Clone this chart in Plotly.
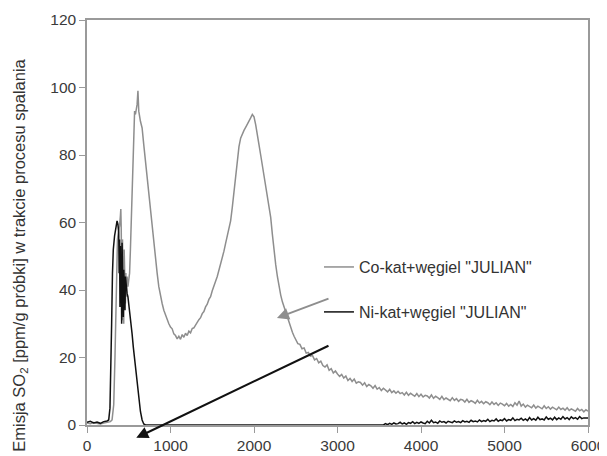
import plotly.graph_objects as go

# ---------------- data ----------------
# Co-kat series: main part (irregular sampling) + tail sampled every 25 s
co_time_main = [0, 40, 80, 120, 160, 200, 240, 280, 300, 320, 335, 345, 355, 365, 375, 390, 400, 405,
                410, 415, 420, 425, 430, 435, 440, 445, 450, 455, 460, 465, 470, 480, 490, 500, 510,
                520, 530, 540, 550, 560, 570, 580, 590, 600, 610, 615, 620, 640, 660, 680, 700, 720,
                740, 760, 780, 800, 820, 840, 860, 880, 900, 920, 940, 960, 980, 1000, 1020, 1040,
                1060, 1080, 1100, 1120, 1140, 1160, 1180, 1200, 1220, 1240, 1260, 1280, 1300, 1320,
                1340, 1360, 1380, 1400, 1420, 1440, 1460, 1480, 1500, 1520, 1540, 1560, 1580, 1600,
                1620, 1640, 1660, 1680, 1700, 1720, 1740, 1760, 1780, 1800, 1820, 1840, 1860, 1880,
                1900, 1920, 1940, 1960, 1980, 2000, 2020, 2040, 2060, 2080, 2100, 2120, 2140, 2160,
                2180, 2200, 2220, 2240, 2260, 2280, 2300, 2320, 2340, 2360, 2380, 2400, 2420, 2440,
                2460, 2480]
co_emission_main = [0.6, 0.4, 0.7, 0.5, 0.3, 0.6, 0.8, 1.0, 1.5, 6, 20, 35, 50, 55, 57, 59, 62, 64,
                    58, 42, 31, 55, 35, 50, 30, 52, 40, 48, 36, 45, 38, 44, 41, 43, 45,
                    52, 60, 70, 80, 88, 93, 92, 94, 95, 99, 97, 93, 90, 88, 83, 78, 74,
                    70, 64, 58, 53, 49, 45, 41, 38, 36, 34, 32.5, 31, 30, 29, 28.5, 27,
                    26.5, 25.5, 26.3, 25.4, 26.8, 26.0, 27.2, 26.5, 27.8, 27.3, 28.6, 28.8, 29.8, 30.4,
                    31.2, 31.8, 33.0, 33.6, 35.0, 35.8, 37.2, 38.0, 39.8, 41.0, 42.6, 44.0, 45.8, 47.2,
                    49.5, 51.5, 53.8, 55.8, 58.0, 60.5, 64.5, 69.0, 73.5, 78.5, 82.5, 85.0, 86.5, 87.3,
                    88.2, 89.3, 90.0, 91.0, 92.0, 91.3, 89.0, 86.5, 83.0, 80.0, 77.0, 74.0, 70.0, 67.0,
                    64.5, 61.5, 56.5, 51.5, 47.5, 44.0, 41.0, 38.5, 36.5, 35.0, 33.0, 31.5, 30.0, 28.8,
                    27.5, 26.3]
co_time_tail = list(range(2500, 6001, 25))
co_emission_tail = [25.4, 24.1, 23.9, 22.6, 22.8, 21.3, 21.5, 20.4, 20.6, 19.3, 19.7, 18.4, 18.9,
                    17.6, 17.2, 17.8, 16.2, 16.7, 15.4, 16.0, 15.1, 14.4, 15.0, 13.9, 14.5, 13.2,
                    13.8, 12.9, 13.6, 12.4, 12.8, 12.6, 11.8, 12.5, 11.4, 12.0, 11.6, 10.9, 11.7,
                    10.6, 11.1, 10.2, 10.9, 10.4, 9.8, 10.6, 9.6, 10.1, 9.4, 10.0, 9.3, 9.6, 8.9,
                    9.7, 8.8, 9.4, 9.0, 8.5, 9.3, 8.4, 9.1, 8.3, 8.8, 8.6, 8.0, 8.9, 7.9, 8.5, 8.1,
                    7.6, 8.5, 7.5, 8.0, 7.7, 7.2, 8.1, 7.3, 7.8, 7.0, 7.6, 7.4, 6.8, 7.6, 6.7, 7.2,
                    6.9, 6.4, 7.3, 6.5, 7.0, 6.3, 6.9, 6.6, 6.0, 6.8, 6.1, 6.6, 5.8, 6.5, 6.2, 5.7,
                    6.4, 5.6, 6.1, 5.5, 6.6, 5.9, 7.1, 5.6, 6.2, 5.3, 5.9, 5.5, 5.1, 5.9, 5.0, 5.6,
                    5.2, 4.8, 5.7, 4.9, 5.4, 4.7, 5.3, 4.9, 4.5, 5.3, 4.6, 5.0, 4.4, 5.1, 4.3, 4.8,
                    4.5, 4.1, 4.9, 4.2, 4.6, 3.9, 4.5, 4.1]

# Ni-kat series: main part + tail sampled every 25 s
ni_time_main = [0, 40, 80, 120, 160, 200, 240, 260, 275, 285, 295, 305, 315, 330, 345, 360, 370,
                380, 385, 390, 395, 400, 405, 410, 415, 420, 425, 430, 435, 440, 445, 450, 455, 460,
                470, 480, 490, 500, 520, 540, 555, 580, 600, 615, 640, 660, 680, 700]
ni_emission_main = [0.8, 1.1, 0.6, 0.9, 0.5, 1.0, 1.2, 1.5, 5, 14, 30, 45, 52, 56, 58.5, 60.5, 59.5,
                    57, 45, 55, 35, 53, 40, 50, 30, 54, 38, 48, 32, 46, 36, 43, 34, 44,
                    40, 39, 38, 36, 32, 27, 23, 17, 12.5, 8.5, 4, 1.5, 0.3, 0]
ni_time_tail = list(range(3500, 6001, 25))
ni_emission_tail = [0.0, 0.2, 0.0, 0.4, 0.1, 0.5, 0.2, 0.6, 0.3, 0.4, 0.8, 0.3, 0.6, 0.2, 0.7,
                    0.5, 1.0, 0.4, 0.8, 0.5, 0.9, 0.6, 0.4, 1.1, 0.6, 1.4, 0.7, 0.9, 0.5, 1.2,
                    0.8, 1.0, 0.6, 1.1, 0.9, 0.7, 1.2, 0.8, 1.0, 0.7, 1.3, 0.9, 1.1, 0.8, 1.4,
                    1.0, 1.2, 0.9, 1.5, 1.0, 1.3, 1.1, 1.7, 1.0, 1.4, 1.2, 1.8, 1.1, 1.5, 1.3,
                    1.9, 1.2, 1.6, 1.4, 2.1, 1.3, 1.7, 1.5, 2.0, 1.4, 1.8, 1.3, 2.2, 1.5, 1.9,
                    1.4, 2.3, 1.6, 1.8, 1.5, 2.4, 1.7, 2.0, 1.5, 2.3, 1.6, 2.1, 1.7, 2.5, 1.8,
                    2.2, 1.6, 2.4, 1.9, 2.2, 1.7, 2.5, 1.9, 2.1, 2.0, 2.1]

co_time = co_time_main + co_time_tail
co_emission = co_emission_main + co_emission_tail
ni_time = ni_time_main + ni_time_tail
ni_emission = ni_emission_main + ni_emission_tail

series_names = ['Co-kat+węgiel "JULIAN"', 'Ni-kat+węgiel "JULIAN"']
x_ticks = [0, 1000, 2000, 3000, 4000, 5000, 6000]
y_ticks = [0, 20, 40, 60, 80, 100, 120]
y_title = "Emisja SO<sub>2</sub> [ppm/g próbki] w trakcie procesu spalania"

# arrows (tail -> head), in data units
gray_arrow = dict(tail=(2910, 37.6), head=(2275, 31.7))
black_arrow = dict(tail=(2910, 23.7), head=(590, -3.8))

GRAY = "#8e8e8e"
BLACK = "#111111"
AXIS = "#9a9a9a"
FONT = "Liberation Sans, Arial, sans-serif"

fig = go.Figure()
fig.add_trace(go.Scatter(x=co_time, y=co_emission, mode="lines", name=series_names[0],
                         line=dict(color=GRAY, width=1.5), legend="legend"))
fig.add_trace(go.Scatter(x=ni_time, y=ni_emission, mode="lines", name=series_names[1],
                         line=dict(color=BLACK, width=1.5), legend="legend2"))

for arr, col in ((gray_arrow, GRAY), (black_arrow, BLACK)):
    fig.add_annotation(x=arr["head"][0], y=arr["head"][1], ax=arr["tail"][0], ay=arr["tail"][1],
                       xref="x", yref="y", axref="x", ayref="y", text="", showarrow=True,
                       arrowhead=2, arrowsize=1.2, arrowwidth=2, arrowcolor=col)

fig.add_annotation(text=y_title, xref="paper", yref="paper", x=-0.134, y=0.42,
                   xanchor="center", yanchor="middle", textangle=-90, showarrow=False,
                   font=dict(family=FONT, size=16.5, color="#333333"))

axis_common = dict(showline=True, linecolor=AXIS, linewidth=1.5, mirror=True, ticks="outside",
                   ticklen=6, tickcolor=AXIS, tickwidth=1, showgrid=False, zeroline=False,
                   automargin=False,
                   tickfont=dict(family=FONT, size=15.5, color="#3a3a3a"))

# the page body adds an 8 px offset, so the figure is 16 px smaller and margins shifted by 8 px
fig.update_layout(
    width=599, height=448,
    margin=dict(l=79, r=19, t=12, b=31, autoexpand=False),
    paper_bgcolor="white", plot_bgcolor="white",
    xaxis=dict(range=[0, 6000], tickvals=x_ticks, **axis_common),
    yaxis=dict(range=[0, 120], tickvals=y_ticks, **axis_common),
    legend=dict(x=0.463, y=0.39, xanchor="left", yanchor="middle", bgcolor="rgba(0,0,0,0)",
                font=dict(family=FONT, size=16, color="#333333")),
    legend2=dict(x=0.463, y=0.279, xanchor="left", yanchor="middle", bgcolor="rgba(0,0,0,0)",
                 font=dict(family=FONT, size=16, color="#333333")),
    showlegend=True,
)

fig.write_html("out.html")
